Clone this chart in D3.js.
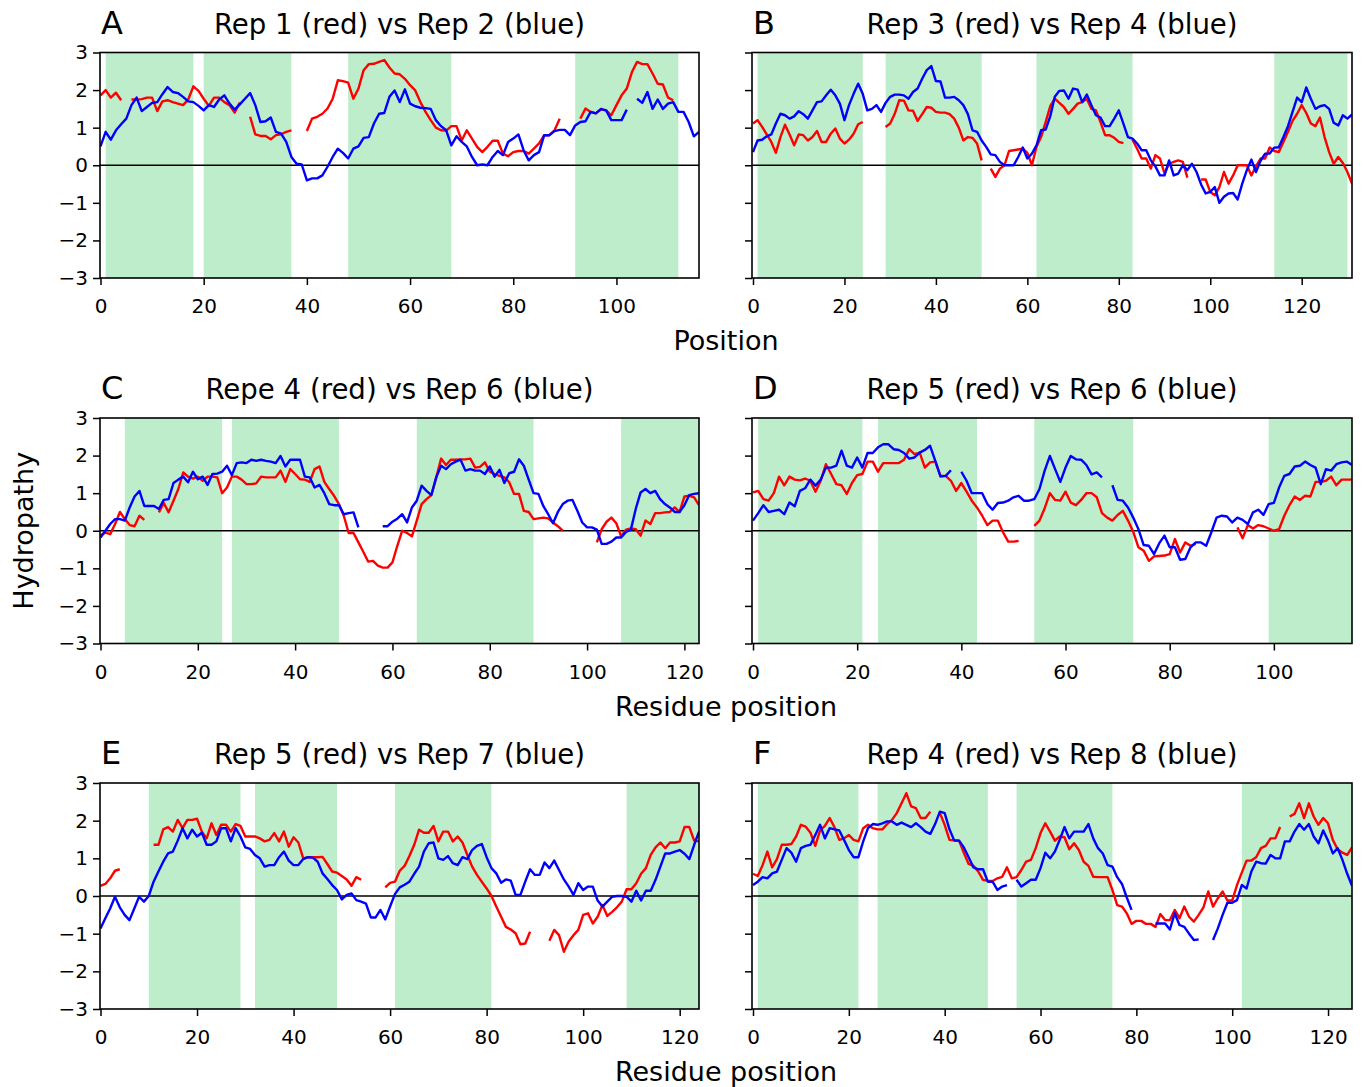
<!DOCTYPE html>
<html>
<head>
<meta charset="utf-8">
<script src="https://cdn.jsdelivr.net/npm/d3@7"></script>
<style>
  body { margin: 0; background: #fff; }
  text { font-family: "DejaVu Sans", sans-serif; }
</style>
</head>
<body>
<div id="chart"></div>
<script>
const letters = ["A", "B", "C", "D", "E", "F"];
const titles = [
    "Rep 1 (red) vs Rep 2 (blue)",
    "Rep 3 (red) vs Rep 4 (blue)",
    "Repe 4 (red) vs Rep 6 (blue)",
    "Rep 5 (red) vs Rep 6 (blue)",
    "Rep 5 (red) vs Rep 7 (blue)",
    "Rep 4 (red) vs Rep 8 (blue)"
];
const xLabels = ["Position", "Residue position", "Residue position"];
const xMax = [116, 131, 123, 115, 124, 125];
const xTicks = [
    [0, 20, 40, 60, 80, 100],
    [0, 20, 40, 60, 80, 100, 120],
    [0, 20, 40, 60, 80, 100, 120],
    [0, 20, 40, 60, 80, 100],
    [0, 20, 40, 60, 80, 100, 120],
    [0, 20, 40, 60, 80, 100, 120]
];
const yTicks = [-3, -2, -1, 0, 1, 2, 3];

// shaded segments (residue ranges)
const spansA = [[1, 18], [20, 37], [48, 68], [92, 112]];
const spansB = [[1, 24], [29, 50], [62, 83], [114, 130]];
const spansC = [[5, 25], [27, 49], [65, 89], [107, 123]];
const spansD = [[1, 21], [24, 43], [54, 73], [99, 115]];
const spansE = [[10, 29], [32, 49], [61, 81], [109, 124]];
const spansF = [[1, 22], [26, 49], [55, 75], [102, 125]];

// hydropathy per residue, null = gap
const redA = [1.86, 2.0, 1.8, 1.93, 1.73, null, 1.75, 1.75, 1.76, 1.8,
    1.8, 1.44, 1.7, 1.73, 1.68, 1.64, 1.6, 1.75, 2.1, 1.98,
    1.77, 1.58, 1.8, 1.8, 1.68, 1.6, 1.4, 1.67, null, 1.29,
    0.82, 0.78, 0.78, 0.69, 0.8, 0.82, 0.89, 0.93, null, null,
    0.91, 1.24, 1.29, 1.37, 1.51, 1.77, 2.26, 2.24, 2.2, 1.77,
    2.04, 2.53, 2.69, 2.7, 2.75, 2.8, 2.6, 2.44, 2.42, 2.3,
    2.13, 1.99, 1.68, 1.42, 1.2, 1.0, 0.93, 0.92, 1.04, 1.04,
    0.66, 0.93, 0.71, 0.49, 0.35, 0.49, 0.65, 0.65, 0.31, 0.24,
    0.35, 0.38, 0.38, 0.31, 0.44, 0.58, 0.8, 0.8, 0.93, 1.24,
    null, null, null, 1.24, 1.51, 1.42, 1.38, 1.48, 1.46, 1.33,
    1.6, 1.86, 2.04, 2.48, 2.75, 2.69, 2.69, 2.44, 2.17, 2.15,
    1.8, 1.73];
const blueA = [0.5, 0.89, 0.68, 0.93, 1.09, 1.24, 1.6, 1.8, 1.44, 1.55,
    1.66, 1.68, 1.89, 2.08, 1.95, 1.92, 1.82, 1.7, 1.68, 1.58,
    1.46, 1.6, 1.55, 1.75, 1.86, 1.64, 1.48, 1.62, 1.77, 1.92,
    1.6, 1.15, 1.17, 1.27, 0.89, 0.84, 0.62, 0.22, 0.04, 0.02,
    -0.4, -0.35, -0.35, -0.27, -0.04, 0.22, 0.44, 0.33, 0.18, 0.44,
    0.5, 0.73, 0.75, 1.11, 1.37, 1.39, 1.82, 1.99, 1.68, 2.02,
    1.64, 1.57, 1.53, 1.52, 1.5, 1.2, 1.04, 0.93, 0.53, 0.77,
    0.62, 0.5, 0.22, 0.0, 0.02, 0.0, 0.22, 0.38, 0.27, 0.62,
    0.71, 0.82, 0.4, 0.13, 0.27, 0.35, 0.8, 0.8, 0.91, 0.94,
    0.94, 0.8, 1.06, 1.15, 1.17, 1.42, 1.38, 1.5, 1.46, 1.2,
    1.2, 1.2, 1.48, null, 1.77, 1.66, 1.95, 1.5, 1.75, 1.5,
    1.64, 1.68, 1.42, 1.42, 1.15, 0.77, 0.89];

const redB = [1.11, 1.2, 1.02, 0.82, 0.62, 0.33, 0.75, 1.08, 0.82, 0.53,
    0.82, 0.8, 0.66, 0.75, 0.91, 0.62, 0.62, 0.84, 0.98, 0.71,
    0.58, 0.68, 0.84, 1.09, 1.15, null, null, null, null, 1.02,
    1.11, 1.37, 1.73, 1.72, 1.46, 1.45, 1.18, 1.36, 1.55, 1.53,
    1.42, 1.4, 1.4, 1.36, 1.24, 1.0, 0.66, 0.75, 0.73, 0.58,
    0.13, null, -0.09, -0.31, -0.09, 0.0, 0.38, 0.4, 0.42, 0.44,
    0.33, 0.0, 0.49, 0.75, 1.15, 1.57, 1.77, 1.66, 1.55, 1.37,
    1.5, 1.64, 1.68, 1.77, 1.5, 1.46, 1.15, 0.8, 0.8, 0.73,
    0.62, 0.59, null, 0.68, 0.44, 0.18, 0.18, -0.09, 0.27, 0.18,
    -0.22, 0.04, 0.09, 0.13, 0.09, -0.33, null, null, -0.38, -0.38,
    -0.71, -0.8, -0.58, -0.18, -0.49, -0.27, 0.0, 0.0, 0.0, -0.27,
    -0.03, 0.18, 0.18, 0.47, 0.38, 0.35, 0.62, 0.89, 1.18, 1.37,
    1.6, 1.39, 1.11, 1.04, 1.27, 0.75, 0.35, 0.04, 0.22, 0.06,
    -0.18, -0.49];
const blueB = [0.35, 0.66, 0.68, 0.77, 0.82, 1.11, 1.37, 1.33, 1.24, 1.3,
    1.44, 1.36, 1.24, 1.46, 1.68, 1.7, 1.86, 2.01, 1.86, 1.64,
    1.2, 1.6, 1.9, 2.17, 1.9, 1.46, 1.5, 1.6, 1.42, 1.66,
    1.82, 1.88, 1.88, 1.86, 1.77, 1.95, 2.04, 2.3, 2.53, 2.64,
    2.24, 2.23, 1.8, 1.8, 1.82, 1.73, 1.6, 1.36, 0.93, 0.89,
    0.66, 0.49, 0.29, 0.27, 0.09, 0.0, 0.0, 0.0, 0.22, 0.47,
    0.18, 0.31, 0.53, 0.93, 0.95, 1.3, 1.82, 1.98, 1.99, 1.77,
    2.04, 2.01, 1.68, 1.88, 1.6, 1.33, 1.27, 1.04, 1.04, 1.24,
    1.46, 1.11, 0.75, 0.71, 0.58, 0.4, 0.4, 0.13, -0.03, -0.27,
    -0.27, 0.13, -0.27, -0.22, 0.0, -0.13, 0.04, -0.18, -0.51, -0.75,
    -0.71, -0.58, -1.0, -0.84, -0.75, -0.74, -0.91, -0.49, -0.13, 0.15,
    -0.18, 0.12, 0.31, 0.31, 0.47, 0.48, 0.75, 1.04, 1.42, 1.8,
    1.68, 2.07, 1.77, 1.5, 1.57, 1.6, 1.5, 1.13, 1.06, 1.33,
    1.24, 1.35];

const redC = [-0.12, -0.05, -0.09, 0.18, 0.5, 0.31, 0.15, 0.12, 0.4, 0.29,
    null, null, 0.49, 0.74, 0.49, 0.8, 1.11, 1.55, 1.44, 1.39,
    1.44, 1.33, 1.44, 1.44, 1.42, 1.0, 1.15, 1.44, 1.44, 1.36,
    1.24, 1.24, 1.26, 1.44, 1.42, 1.42, 1.42, 1.6, 1.3, 1.64,
    1.51, 1.37, 1.36, 1.3, 1.64, 1.71, 1.3, 1.11, 0.93, 0.71,
    0.4, -0.06, -0.06, -0.31, -0.56, -0.82, -0.8, -0.93, -0.98, -0.98,
    -0.84, -0.4, 0.0, -0.06, -0.15, 0.27, 0.71, 0.84, 0.95, 1.42,
    1.92, 1.75, 1.89, 1.89, 1.9, 1.9, 1.92, 1.68, 1.7, 1.82,
    1.57, 1.51, 1.46, 1.42, 1.29, 0.98, 0.98, 0.53, 0.5, 0.31,
    0.33, 0.35, 0.33, 0.22, 0.12, 0.0, null, null, null, null,
    null, null, -0.31, 0.04, 0.24, 0.35, 0.2, -0.15, 0.03, 0.06,
    0.04, -0.13, 0.27, 0.18, 0.47, 0.47, 0.49, 0.5, 0.62, 0.5,
    0.91, 0.93, 0.89, 0.68];
const blueC = [-0.18, 0.0, 0.18, 0.31, 0.31, 0.27, 0.62, 0.91, 1.06, 0.66,
    0.66, 0.66, 0.58, 0.82, 0.84, 1.27, 1.36, 1.44, 1.29, 1.57,
    1.37, 1.44, 1.22, 1.51, 1.52, 1.57, 1.73, 1.48, 1.8, 1.82,
    1.8, 1.89, 1.86, 1.89, 1.86, 1.84, 1.8, 1.99, 1.71, 1.89,
    1.89, 1.89, 1.44, 1.42, 1.15, 1.22, 1.0, 0.71, 0.68, 0.68,
    0.44, 0.47, 0.49, 0.09, null, null, null, null, 0.12, 0.12,
    0.24, 0.32, 0.44, 0.22, 0.62, 0.8, 1.2, 1.06, 0.95, 1.42,
    1.73, 1.64, 1.77, 1.84, 1.89, 1.6, 1.64, 1.6, 1.6, 1.51,
    1.71, 1.44, 1.62, 1.27, 1.53, 1.57, 1.9, 1.73, 1.36, 1.0,
    0.98, 0.66, 0.44, 0.2, 0.5, 0.71, 0.8, 0.82, 0.53, 0.22,
    0.09, 0.09, 0.03, -0.35, -0.35, -0.29, -0.18, -0.18, -0.03, 0.03,
    0.58, 1.02, 1.11, 1.0, 1.06, 0.84, 0.71, 0.62, 0.5, 0.5,
    0.68, 0.95, 0.98, 1.0];

const redD = [1.02, 1.06, 0.84, 0.8, 1.0, 1.44, 1.21, 1.44, 1.36, 1.34,
    1.39, 1.33, 1.04, 1.33, 1.77, 1.51, 1.24, 1.21, 0.98, 1.27,
    1.48, 1.51, 1.84, 1.84, 1.57, 1.8, 1.8, 1.8, 1.8, 1.89,
    2.17, 2.04, 2.08, 1.68, 1.82, 1.84, 1.46, 1.46, 1.33, 1.06,
    1.27, 1.04, 0.8, 0.62, 0.4, 0.15, 0.27, 0.27, -0.04, -0.29,
    -0.29, -0.27, null, null, 0.13, 0.27, 0.6, 1.0, 0.82, 0.8,
    1.04, 0.75, 0.68, 0.82, 1.0, 1.0, 0.89, 0.47, 0.35, 0.27,
    0.42, 0.53, 0.27, -0.03, -0.44, -0.53, -0.8, -0.68, -0.67, -0.66,
    -0.62, -0.22, -0.58, -0.31, -0.4, -0.35, null, null, null, null,
    null, null, null, 0.09, -0.2, 0.15, 0.06, 0.15, 0.12, 0.06,
    0.0, 0.04, 0.4, 0.68, 0.91, 0.82, 0.93, 0.91, 1.3, 1.3,
    1.33, 1.44, 1.21, 1.36, 1.36, 1.36];
const blueD = [0.27, 0.47, 0.68, 0.5, 0.53, 0.56, 0.44, 0.75, 0.65, 1.06,
    1.13, 1.36, 1.2, 1.36, 1.68, 1.68, 1.73, 2.13, 1.73, 1.68,
    1.95, 1.68, 2.07, 2.07, 2.22, 2.3, 2.3, 2.17, 2.15, 2.07,
    1.92, 1.95, 2.08, 2.15, 2.26, 1.86, 1.44, 1.46, 1.61, null,
    1.57, 1.33, 1.0, 1.0, 1.0, 0.71, 0.56, 0.74, 0.75, 0.8,
    0.89, 0.93, 0.8, 0.8, 0.84, 1.11, 1.6, 1.99, 1.64, 1.3,
    1.68, 1.99, 1.9, 1.89, 1.75, 1.5, 1.55, 1.42, null, 1.21,
    0.82, 0.8, 0.62, 0.35, 0.04, -0.38, -0.4, -0.62, -0.33, -0.13,
    -0.44, -0.44, -0.77, -0.75, -0.44, -0.31, -0.31, -0.4, -0.04, 0.35,
    0.4, 0.38, 0.22, 0.35, 0.29, 0.18, 0.49, 0.56, 0.42, 0.71,
    0.74, 1.15, 1.46, 1.51, 1.71, 1.73, 1.84, 1.75, 1.68, 1.24,
    1.64, 1.6, 1.77, 1.82, 1.84, 1.75];

const redE = [0.27, 0.32, 0.47, 0.67, 0.71, null, null, null, null, null,
    null, 1.36, 1.36, 1.77, 1.83, 1.71, 2.02, 1.8, 2.02, 2.02,
    2.05, 1.71, 1.53, 1.93, 1.62, 1.89, 1.89, 1.71, 1.91, 1.86,
    1.58, 1.58, 1.58, 1.53, 1.45, 1.49, 1.67, 1.45, 1.71, 1.31,
    1.56, 1.42, 1.0, 1.03, 1.03, 1.03, 1.04, 0.85, 0.65, 0.62,
    0.53, 0.44, 0.27, 0.5, 0.43, null, null, null, null, 0.23,
    0.35, 0.38, 0.67, 0.8, 1.06, 1.36, 1.76, 1.68, 1.68, 1.86,
    1.45, 1.71, 1.71, 1.45, 1.58, 1.42, 1.09, 0.78, 0.56, 0.38,
    0.2, 0.0, -0.28, -0.55, -0.82, -0.89, -0.99, -1.28, -1.26, -0.95,
    null, null, null, -1.19, -0.9, -1.04, -1.48, -1.21, -1.04, -0.9,
    -0.5, -0.46, -0.73, -0.55, -0.24, -0.53, -0.42, -0.3, -0.15, 0.18,
    0.18, 0.34, 0.59, 0.74, 1.09, 1.29, 1.42, 1.27, 1.42, 1.42,
    1.45, 1.83, 1.83, 1.47, 1.45];
const blueE = [-0.86, -0.59, -0.33, -0.02, -0.3, -0.5, -0.64, -0.33, -0.02, -0.15,
    0.0, 0.38, 0.65, 0.91, 1.13, 1.18, 1.47, 1.8, 1.53, 1.76,
    1.58, 1.68, 1.36, 1.36, 1.45, 1.8, 1.8, 1.45, 1.8, 1.58,
    1.29, 1.25, 1.09, 1.0, 0.78, 0.82, 0.82, 1.03, 1.18, 0.94,
    0.82, 0.82, 0.98, 1.03, 1.02, 0.91, 0.6, 0.45, 0.29, 0.16,
    -0.09, 0.03, 0.07, -0.11, -0.15, -0.2, -0.57, -0.57, -0.37, -0.62,
    -0.28, 0.05, 0.23, 0.3, 0.38, 0.59, 0.78, 1.18, 1.4, 1.42,
    1.0, 0.96, 1.06, 0.87, 0.82, 1.03, 0.98, 1.22, 1.33, 1.38,
    1.03, 0.74, 0.6, 0.35, 0.44, 0.41, 0.03, 0.03, 0.38, 0.71,
    0.56, 0.56, 0.89, 0.74, 0.94, 0.69, 0.44, 0.25, 0.03, 0.34,
    0.16, 0.25, 0.25, -0.12, -0.28, -0.15, -0.02, 0.0, 0.0, -0.02,
    -0.15, 0.14, -0.12, 0.14, 0.14, 0.43, 0.78, 1.13, 1.13, 1.18,
    1.22, 1.12, 0.98, 1.36, 1.71];

const redF = [0.59, 0.53, 0.82, 1.18, 0.76, 0.98, 1.36, 1.36, 1.38, 1.58,
    1.89, 1.84, 1.68, 1.33, 1.74, 1.86, 2.07, 1.83, 1.49, 1.53,
    1.62, 1.49, 1.45, 1.8, 1.89, 1.8, 1.77, 1.77, 1.91, 2.02,
    2.2, 2.46, 2.73, 2.38, 2.33, 2.07, 2.07, 2.24, null, 2.2,
    1.89, 1.49, 1.48, 1.47, 1.15, 0.85, 0.8, 0.65, 0.43, 0.4,
    0.4, 0.47, 0.51, 0.76, 0.47, 0.5, 0.69, 0.91, 0.96, 1.27,
    1.67, 1.93, 1.71, 1.47, 1.58, 1.56, 1.24, 1.4, 1.22, 0.91,
    0.8, 0.51, 0.5, 0.5, 0.5, 0.16, -0.24, -0.28, -0.46, -0.74,
    -0.66, -0.66, -0.74, -0.74, -0.82, -0.48, -0.64, -0.64, -0.37, -0.59,
    -0.28, -0.55, -0.68, -0.5, -0.3, 0.12, -0.28, -0.06, 0.12, -0.12,
    -0.12, 0.29, 0.62, 0.94, 0.94, 1.03, 1.27, 1.33, 1.53, 1.53,
    1.83, null, 2.11, 2.18, 2.46, 2.07, 2.46, 2.11, 1.89, 2.07,
    1.93, 1.49, 1.24, 1.15, 1.09, 1.29];
const blueF = [0.29, 0.38, 0.5, 0.47, 0.6, 0.65, 0.96, 1.27, 1.15, 0.91,
    1.27, 1.33, 1.36, 1.62, 1.89, 1.53, 1.8, 1.77, 1.74, 1.49,
    1.22, 1.03, 1.03, 1.45, 1.8, 1.91, 1.89, 1.93, 1.98, 1.98,
    1.89, 1.95, 1.89, 1.83, 1.93, 1.83, 1.71, 1.65, 1.91, 2.24,
    2.2, 1.77, 1.47, 1.47, 1.29, 1.03, 0.76, 0.71, 0.71, 0.38,
    0.38, 0.16, 0.25, 0.29, null, 0.43, 0.25, 0.34, 0.43, 0.43,
    0.74, 1.15, 1.0, 1.18, 1.49, 1.83, 1.53, 1.71, 1.71, 1.71,
    1.91, 1.53, 1.27, 1.13, 0.82, 0.78, 0.5, 0.32, -0.04, -0.37,
    null, null, null, null, -0.73, -0.73, -0.73, -0.89, -0.46, -0.77,
    -0.82, -1.0, -1.17, -1.15, null, null, -1.17, -0.86, -0.5, -0.18,
    -0.18, -0.11, 0.29, 0.2, 0.65, 0.91, 0.87, 0.86, 1.09, 1.0,
    1.0, 1.45, 1.45, 1.71, 1.91, 1.76, 1.91, 1.58, 1.4, 1.74,
    1.47, 1.13, 1.27, 0.96, 0.59, 0.27];

const W = 1363, H = 1087;
const green = "#bdedcb";
const cols = [{x0: 100, x1: 699, r0: 100.5}, {x0: 752, x1: 1352, r0: 753}];
const rows = [{y0: 52.5, y1: 278}, {y0: 418, y1: 643.5}, {y0: 783, y1: 1009}];

const panels = letters.map((l, k) => ({
    letter: l,
    title: titles[k],
    xmax: xMax[k],
    ticks: xTicks[k],
    spans: [spansA, spansB, spansC, spansD, spansE, spansF][k],
    red: [redA, redB, redC, redD, redE, redF][k],
    blue: [blueA, blueB, blueC, blueD, blueE, blueF][k]
}));

const svg = d3.select("#chart").append("svg")
    .attr("width", W)
    .attr("height", H);

const fmt = d => d < 0 ? "\u2212" + Math.abs(d) : String(d);

function styleAxis(a) {
    a.select(".domain").remove();
    a.attr("font-family", "DejaVu Sans").attr("font-size", 20);
    a.selectAll(".tick line").attr("stroke", "#000").attr("stroke-width", 1.5);
    a.selectAll(".tick text").attr("fill", "#000");
}

function drawPanel(p, k) {
    const col = cols[k % 2], row = rows[Math.floor(k / 2)];
    const x = d3.scaleLinear().domain([0, p.xmax]).range([col.r0, col.x1]);
    const y = d3.scaleLinear().domain([-3, 3]).range([row.y1, row.y0]);

    const g = svg.append("g");
    g.append("clipPath").attr("id", "clip" + k)
        .append("rect")
        .attr("x", col.x0).attr("y", row.y0)
        .attr("width", col.x1 - col.x0).attr("height", row.y1 - row.y0);

    const plot = g.append("g").attr("clip-path", `url(#clip${k})`);

    plot.selectAll("rect")
        .data(p.spans)
        .enter()
        .append("rect")
        .attr("x", d => x(d[0]))
        .attr("width", d => x(d[1]) - x(d[0]))
        .attr("y", row.y0)
        .attr("height", row.y1 - row.y0)
        .attr("fill", green);

    plot.append("line")
        .attr("x1", col.x0).attr("x2", col.x1)
        .attr("y1", y(0)).attr("y2", y(0))
        .attr("stroke", "#000")
        .attr("stroke-width", 1.4);

    const line = d3.line()
        .defined(d => d != null)
        .x((d, i) => x(i))
        .y(d => y(d));

    [[p.red, "#ff0000"], [p.blue, "#0000ff"]].forEach(([data, c]) => {
        plot.append("path")
            .datum(data)
            .attr("d", line)
            .attr("fill", "none")
            .attr("stroke", c)
            .attr("stroke-width", 2.4)
            .attr("stroke-linejoin", "round");
    });

    g.append("g")
        .attr("transform", `translate(0,${row.y1})`)
        .call(d3.axisBottom(x).tickValues(p.ticks).tickSize(7).tickPadding(14).tickSizeOuter(0))
        .call(styleAxis);

    const yAxis = d3.axisLeft(y).tickValues(yTicks).tickSize(7).tickPadding(5).tickSizeOuter(0)
        .tickFormat(k % 2 === 0 ? fmt : "");
    g.append("g")
        .attr("transform", `translate(${col.x0},0)`)
        .call(yAxis)
        .call(styleAxis);

    g.append("rect")
        .attr("x", col.x0).attr("y", row.y0)
        .attr("width", col.x1 - col.x0).attr("height", row.y1 - row.y0)
        .attr("fill", "none")
        .attr("stroke", "#000")
        .attr("stroke-width", 1.6);

    g.append("text")
        .attr("x", col.x0 + 1)
        .attr("y", row.y0 - 19)
        .attr("font-size", 32)
        .text(p.letter);

    g.append("text")
        .attr("x", (col.x0 + col.x1) / 2)
        .attr("y", row.y0 - 19)
        .attr("text-anchor", "middle")
        .attr("font-size", 27.6)
        .text(p.title);
}

panels.forEach(drawPanel);

rows.forEach((row, r) => {
    svg.append("text")
        .attr("x", 726)
        .attr("y", row.y1 + 72)
        .attr("text-anchor", "middle")
        .attr("font-size", 27)
        .text(xLabels[r]);
});

svg.append("text")
    .attr("transform", `translate(33,${(rows[1].y0 + rows[1].y1) / 2}) rotate(-90)`)
    .attr("text-anchor", "middle")
    .attr("font-size", 27)
    .text("Hydropathy");
</script>
</body>
</html>
